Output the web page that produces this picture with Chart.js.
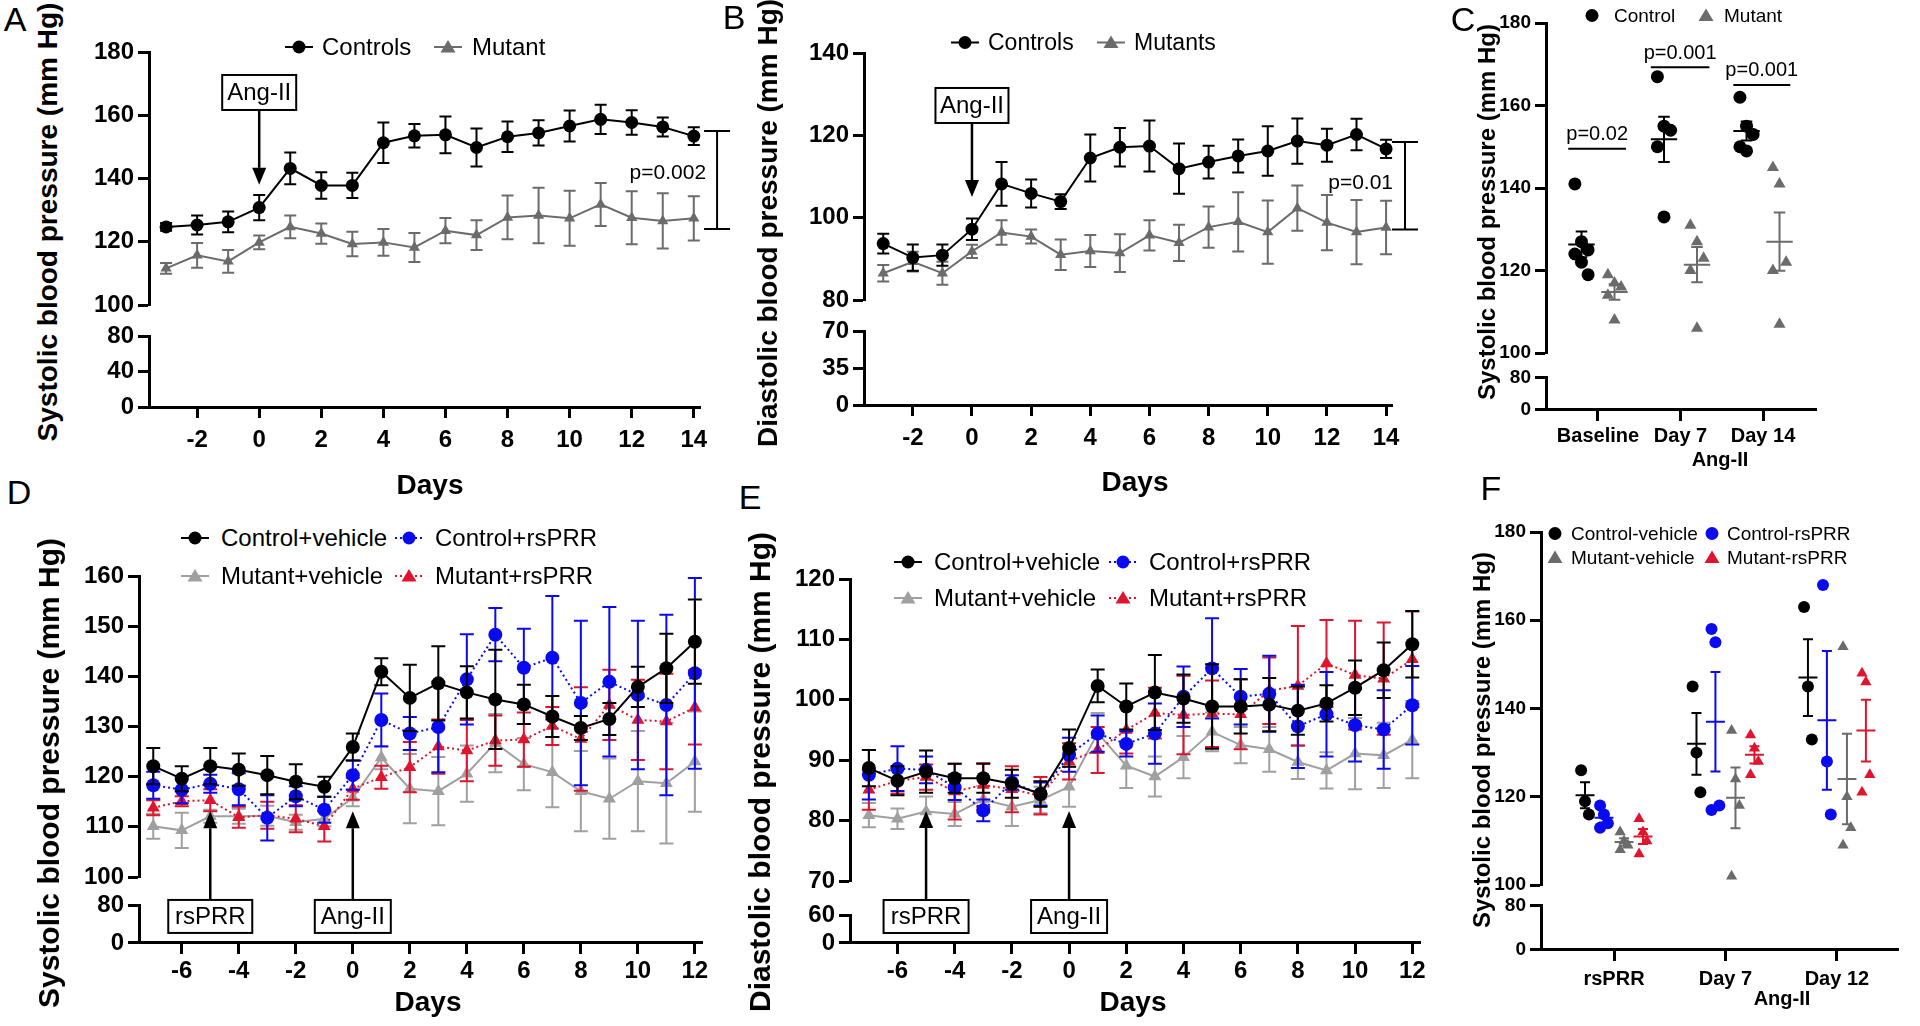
<!DOCTYPE html>
<html>
<head>
<meta charset="utf-8">
<script src="https://cdn.jsdelivr.net/npm/chart.js@4.4.1/dist/chart.umd.min.js"></script>
<style>
  body { margin: 0; width: 1920px; height: 1026px; overflow: hidden; position: relative; background: #fff;
         font-family: "Liberation Sans", Arial, sans-serif; color: #000; }
  canvas { position: absolute; }
  .txt { position: absolute; white-space: nowrap; line-height: 1; transform: translate(-50%, -50%); }
  .ytitle { position: absolute; white-space: nowrap; line-height: 1; font-weight: bold;
            transform: translate(-50%, -50%) rotate(-90deg); }
  .leg { position: absolute; display: flex; align-items: center; white-space: nowrap; line-height: 1;
         transform: translateY(-50%); }
</style>
</head>
<body>
<script>
// ---------------- data ----------------
const DAYS_AB = [-3, -2, -1, 0, 1, 2, 3, 4, 5, 6, 7, 8, 9, 10, 11, 12, 13, 14];
const DAYS_DE = [-7, -6, -5, -4, -3, -2, -1, 0, 1, 2, 3, 4, 5, 6, 7, 8, 9, 10, 11, 12];
const TICKS_AB = [-2, 0, 2, 4, 6, 8, 10, 12, 14];
const TICKS_DE = [-6, -4, -2, 0, 2, 4, 6, 8, 10, 12];

// A: systolic, controls vs mutant
const A_CTRL     = [124.7, 125.3, 126.3, 130.8, 143.2, 137.8, 137.8, 151.3, 153.5, 153.8, 149.8, 153.2, 154.4, 156.6, 158.7, 157.7, 156.3, 153.4];
const A_CTRL_ERR = [1.2, 3, 3.3, 4, 5, 4.2, 4, 6.4, 3.7, 5.8, 6, 4.8, 4, 4.9, 4.6, 3.9, 3, 2.8];
const A_MUT      = [111.6, 115.7, 113.8, 119.8, 124.7, 122.6, 119.3, 119.8, 118.2, 123.5, 122.1, 127.7, 128.3, 127.4, 131.8, 127.6, 126.6, 127.4];
const A_MUT_ERR  = [1.7, 3.9, 3.6, 2.2, 3.6, 3.2, 3.9, 4.2, 4.6, 4, 4.7, 6.9, 8.8, 8.7, 6.8, 8.4, 8.7, 7];
const A_Y_UP = [100, 120, 140, 160, 180];
const A_Y_LOW = [0, 40, 80];

// B: diastolic, controls vs mutants
const B_CTRL     = [93.7, 90.3, 90.9, 97.2, 108.2, 105.9, 103.9, 114.5, 117.1, 117.4, 111.9, 113.5, 115, 116.2, 118.6, 117.6, 120.2, 116.7];
const B_CTRL_ERR = [2.4, 3.2, 2.6, 2.6, 5.3, 3.4, 1.8, 5.7, 4.7, 6.2, 6.1, 4, 4, 6, 5.5, 4, 3.8, 2.2];
const B_MUT      = [86.5, 89.3, 86.5, 91.8, 96.4, 95.4, 91, 91.9, 91.4, 95.7, 93.9, 97.7, 99, 96.5, 102.3, 98.8, 96.5, 97.6];
const B_MUT_ERR  = [2, 2.4, 2.8, 1.6, 3, 1.7, 3.7, 3.9, 4.6, 3.7, 4.4, 5, 7.2, 7.7, 5.5, 6.7, 7.8, 6.5];
const B_Y_UP = [80, 100, 120, 140];
const B_Y_LOW = [0, 35, 70];

// C: individual animals
const C_GROUPS = ['Baseline', 'Day 7', 'Day 14'];
const C_CTRL = [[141, 127, 125, 124, 122, 119], [167, 155, 154, 150, 133], [162, 155, 153, 150, 149]];
const C_MUT  = [[119, 117, 116, 114, 108], [131, 127, 123, 120, 106], [145, 141, 122, 120, 107]];
const C_Y_UP = [100, 120, 140, 160, 180];
const C_Y_LOW = [0, 80];

// D: systolic, four groups
const D_CV     = [122.1, 119.6, 122.1, 121.4, 120.3, 119, 118, 125.9, 140.9, 135.7, 138.6, 136.8, 135.4, 134.4, 132, 129.7, 131.5, 137.9, 141.6, 146.9];
const D_CV_ERR = [3.6, 2.5, 3.6, 3.2, 3.8, 3.5, 2, 2.7, 2.7, 6.6, 7.4, 5.2, 9.9, 3.9, 4.1, 2.4, 3.2, 4, 6.9, 8.4];
const D_CR     = [118.3, 117.4, 118.6, 117.5, 111.8, 116.1, 113.4, 120.3, 131.3, 128.6, 129.9, 139.4, 148.3, 141.7, 143.7, 134.7, 138.9, 136.3, 134.3, 140.6];
const D_CR_ERR = [2.7, 2.7, 1.8, 3.2, 4.5, 2, 2.6, 2.9, 5.3, 3.3, 9, 9, 5.3, 7.8, 12.3, 16.4, 14.9, 14.8, 18, 19];
const D_MV     = [110.1, 109.3, 112.1, 112.1, 112.2, 110.9, 111.6, 115.8, 123.8, 117.6, 117.1, 120.6, 126.7, 122.5, 120.9, 117.1, 115.6, 119.1, 118.7, 123];
const D_MV_ERR = [2.5, 3.5, 1.3, 1.5, 2, 1.5, 1.5, 1.7, 2.3, 6.9, 6.8, 5.6, 5.8, 5.2, 7, 8, 8, 10, 12, 10];
const D_MR     = [113.8, 115.1, 115.3, 111.9, 112.3, 111.6, 110.1, 117.6, 119.9, 121.9, 126, 125.2, 127.2, 127.4, 130.1, 127.5, 134.3, 131.3, 131, 133.8];
const D_MR_ERR = [1.5, 1, 2.2, 2.1, 2.7, 2.7, 3, 2.2, 2.3, 5, 5.4, 6.1, 5, 5.4, 3.8, 10.3, 7, 8, 9.5, 7.4];
const D_Y_UP = [100, 110, 120, 130, 140, 150, 160];
const D_Y_LOW = [0, 80];

// E: diastolic, four groups
const E_CV     = [88.7, 86.6, 88.1, 87, 87, 86.1, 84.4, 92, 102.3, 98.9, 101.2, 100.2, 98.9, 98.9, 99.2, 98.2, 99.4, 102, 104.9, 109.2];
const E_CV_ERR = [3, 2.4, 3.5, 2.4, 2.4, 2.3, 2.1, 3.1, 2.7, 3.8, 6.2, 4, 7, 4.5, 4.4, 4, 3, 4.5, 4.6, 5.5];
const E_CR     = [87.6, 88.6, 88.4, 85.5, 81.7, 86.3, 84.4, 90.9, 94.4, 92.7, 94.4, 100.5, 105.2, 100.5, 101, 95.6, 97.6, 95.8, 95.1, 99.1];
const E_CR_ERR = [4.1, 3.7, 2.2, 2.1, 1.8, 1.2, 1.9, 2.8, 3, 2.1, 5, 5, 8.3, 4.6, 6.3, 6.9, 7, 6, 6.5, 6.5];
const E_MV     = [80.9, 80.3, 81.5, 81.1, 83.5, 82.3, 83.4, 85.6, 94.5, 89.1, 87.3, 90.5, 94.7, 92.5, 91.8, 89.7, 88.3, 91.1, 90.8, 93.4];
const E_MV_ERR = [2, 1.7, 2.5, 2, 2.2, 3.2, 2.2, 3.3, 3.3, 3.7, 3.3, 3.5, 3.2, 3, 3.7, 2.8, 3, 5.9, 5.4, 6.4];
const E_MR     = [85.1, 86.6, 87.2, 84.8, 85.9, 85.2, 84.1, 89.8, 91.7, 95, 97.8, 97.5, 97.7, 97.6, 101.5, 102.3, 106, 104.1, 103.5, 106.7];
const E_MR_ERR = [3.3, 2.1, 2.1, 4.6, 3.6, 3.8, 3.1, 3, 3.8, 3.9, 4.2, 6.5, 5.5, 5.8, 5.5, 9.9, 7.2, 9, 9.3, 7.9];
const E_Y_UP = [70, 80, 90, 100, 110, 120];
const E_Y_LOW = [0, 60];

// F: individual animals, four groups
const F_GROUPS = ['rsPRR', 'Day 7', 'Day 12'];
const F_CV = [[126, 119, 116], [145, 130, 121], [163, 145, 133]];
const F_CR = [[118, 116, 114, 113], [158, 155, 118, 117], [168, 128, 116]];
const F_MV = [[112, 110, 109, 108], [135, 124, 118, 102], [154, 120, 113, 109]];
const F_MR = [[115, 112, 110, 107], [134, 131, 128, 125], [148, 146, 125, 121]];
const F_Y_UP = [100, 120, 140, 160, 180];
const F_Y_LOW = [0, 80];

// ---------------- styles ----------------
const FONT = '"Liberation Sans", Arial, sans-serif';
const BLACK = '#000000', DGRAY = '#6b6b6b', LGRAY = '#a0a0a0', BLUE = '#0a0af0', RED = '#e0142d';
Chart.defaults.font.family = FONT;
Chart.defaults.color = '#000';

// ---------------- plugins ----------------
const errorBars = {
  id: 'errorBars',
  beforeDatasetDraw(chart, args) {
    const ds = chart.data.datasets[args.index];
    if (!ds.errors) return;
    const { ctx, scales: { y } } = chart;
    const cap = ds.capPx || 6;
    ctx.save();
    ctx.setLineDash([]);
    ctx.strokeStyle = ds.borderColor;
    ctx.lineWidth = 2;
    args.meta.data.forEach((pt, i) => {
      const v = ds.data[i].y, e = ds.errors[i];
      const t = y.getPixelForValue(v + e), b = y.getPixelForValue(v - e);
      ctx.beginPath();
      ctx.moveTo(pt.x, t); ctx.lineTo(pt.x, b);
      ctx.moveTo(pt.x - cap, t); ctx.lineTo(pt.x + cap, t);
      ctx.moveTo(pt.x - cap, b); ctx.lineTo(pt.x + cap, b);
      ctx.stroke();
    });
    ctx.restore();
  }
};

const meanSem = {
  id: 'meanSem',
  afterDatasetDraw(chart, args) {
    const ds = chart.data.datasets[args.index];
    if (!ds.stats) return;
    const { ctx, scales: { x, y } } = chart;
    ctx.save();
    ctx.setLineDash([]);
    ctx.strokeStyle = ds.borderColor;
    ctx.lineWidth = 2;
    ds.stats.forEach(s => {
      const m = y.getPixelForValue(s.mean);
      const t = y.getPixelForValue(s.mean + s.sem), b = y.getPixelForValue(s.mean - s.sem);
      const xc = x.getPixelForValue(s.x);
      const ml = x.getPixelForValue(s.x - ds.meanHalf), mr = x.getPixelForValue(s.x + ds.meanHalf);
      const cl = x.getPixelForValue(s.x - ds.capHalf), cr = x.getPixelForValue(s.x + ds.capHalf);
      ctx.beginPath();
      ctx.moveTo(ml, m); ctx.lineTo(mr, m);
      ctx.moveTo(xc, t); ctx.lineTo(xc, b);
      ctx.moveTo(cl, t); ctx.lineTo(cr, t);
      ctx.moveTo(cl, b); ctx.lineTo(cr, b);
      ctx.stroke();
    });
    ctx.restore();
  }
};

// boxes, arrows and p-value brackets, placed in data units
const notes = {
  id: 'notes',
  afterDraw(chart, args, opts) {
    const { ctx, scales: { x, y } } = chart;
    ctx.save();
    (opts.items || []).forEach(it => {
      ctx.setLineDash([]);
      ctx.strokeStyle = '#000';
      ctx.fillStyle = '#000';
      if (it.type === 'box') {
        const px = x.getPixelForValue(it.x), py = y.getPixelForValue(it.y);
        ctx.lineWidth = 2;
        ctx.strokeRect(px - it.w / 2, py - it.h / 2, it.w, it.h);
        ctx.font = '24px ' + FONT;
        ctx.textAlign = 'center';
        ctx.textBaseline = 'middle';
        ctx.fillText(it.text, px, py + 1);
      } else if (it.type === 'arrow') {
        const px = x.getPixelForValue(it.x);
        const y0 = y.getPixelForValue(it.from), y1 = y.getPixelForValue(it.to);
        const dir = Math.sign(y1 - y0), head = 17;
        ctx.lineWidth = 2.5;
        ctx.beginPath();
        ctx.moveTo(px, y0); ctx.lineTo(px, y1 - dir * head);
        ctx.stroke();
        ctx.beginPath();
        ctx.moveTo(px, y1);
        ctx.lineTo(px - 7, y1 - dir * head);
        ctx.lineTo(px + 7, y1 - dir * head);
        ctx.closePath();
        ctx.fill();
      } else if (it.type === 'bracket') {
        const px = x.getPixelForValue(it.x);
        const t = y.getPixelForValue(it.y2), b = y.getPixelForValue(it.y1);
        ctx.lineWidth = 2;
        ctx.beginPath();
        ctx.moveTo(px, t); ctx.lineTo(px, b);
        ctx.moveTo(px - it.cap, t); ctx.lineTo(px + it.cap, t);
        ctx.moveTo(px - it.cap, b); ctx.lineTo(px + it.cap, b);
        ctx.stroke();
        ctx.font = '21px ' + FONT;
        ctx.textAlign = 'right';
        ctx.textBaseline = 'middle';
        ctx.fillText(it.text, px - it.gap, y.getPixelForValue(it.textY));
      } else if (it.type === 'sig') {
        const py = y.getPixelForValue(it.y);
        const x1 = x.getPixelForValue(it.x1), x2 = x.getPixelForValue(it.x2);
        ctx.lineWidth = 2;
        ctx.beginPath();
        ctx.moveTo(x1, py); ctx.lineTo(x2, py);
        ctx.stroke();
        ctx.font = '20px ' + FONT;
        ctx.textAlign = 'center';
        ctx.textBaseline = 'bottom';
        ctx.fillText(it.text, (x1 + x2) / 2, py - 4);
      }
    });
    ctx.restore();
  }
};

// ---------------- datasets ----------------
function lineSet(days, vals, errs, color, shape, dotted, radius, capPx) {
  return {
    data: days.map((d, i) => ({ x: d, y: vals[i] })),
    errors: errs, capPx,
    borderColor: color, backgroundColor: color,
    borderWidth: 2, borderDash: dotted ? [2, 3] : [],
    pointStyle: shape, pointRadius: radius, pointBorderWidth: 0,
    pointBackgroundColor: color, pointBorderColor: color,
    tension: 0, fill: false, clip: false
  };
}

function dotSet(groups, color, shape, offset, spread, radius, meanHalf, capHalf) {
  const pts = [], stats = [];
  groups.forEach((vals, g) => {
    const cx = g + 1 + offset;
    vals.forEach((v, j) => pts.push({ x: cx + ((j % 3) - 1) * spread, y: v }));
    const mean = vals.reduce((a, b) => a + b, 0) / vals.length;
    const sd = Math.sqrt(vals.reduce((a, b) => a + (b - mean) ** 2, 0) / (vals.length - 1));
    stats.push({ x: cx, mean, sem: sd / Math.sqrt(vals.length) });
  });
  return {
    data: pts, stats, meanHalf, capHalf,
    showLine: false, borderColor: color, backgroundColor: color,
    pointStyle: shape, pointRadius: radius, pointBorderWidth: 0,
    pointBackgroundColor: color, clip: false
  };
}

// ---------------- layout helpers ----------------
const ML = 80, MR = 70, MT = 22, XB = 64;

function mkCanvas(left, top, w, h) {
  const c = document.createElement('canvas');
  c.width = w; c.height = h;
  Object.assign(c.style, { left: left + 'px', top: top + 'px', width: w + 'px', height: h + 'px' });
  document.body.appendChild(c);
  return c;
}

function axisOpts(size, pad, list) {
  return {
    grid: { display: true, drawOnChartArea: false, drawTicks: true, tickLength: 11, tickWidth: 3, tickColor: '#000' },
    border: { display: true, color: '#000', width: 3 },
    ticks: { color: '#000', font: { size, weight: 'bold' }, padding: pad, autoSkip: false, maxRotation: 0 },
    afterBuildTicks: s => { s.ticks = list.map(v => ({ value: v })); }
  };
}

// one panel = upper chart with the data + lower chart carrying the x axis
function panel(p) {
  const left = p.axisX - ML;
  const w = p.plotRight - p.axisX + ML + MR;
  const upTop = p.upper[0] - MT;
  const upBottom = p.upCanvasBottom || (p.lower[0] - 4);
  const base = { responsive: false, animation: false, events: [] };
  const hide = { legend: { display: false }, tooltip: { enabled: false } };

  const xAxis = axisOpts(p.xFont, p.xPad, p.xTicks);
  if (p.xLabels) xAxis.ticks.callback = v => p.xLabels[v - 1];

  // lower segment with x axis
  new Chart(mkCanvas(left, p.lower[0] - 15, w, 15 + (p.lower[1] - p.lower[0]) + XB), {
    type: 'line',
    data: { datasets: [] },
    options: Object.assign({}, base, {
      plugins: hide,
      layout: { padding: { top: 15, bottom: 0, left: 0, right: MR } },
      scales: {
        x: Object.assign(xAxis, {
          type: 'linear', position: 'bottom', min: p.xMin, max: p.xMax,
          afterFit: s => { s.height = XB; }
        }),
        y: Object.assign(axisOpts(p.yFont, 4, p.yLow), {
          type: 'linear', min: p.yLow[0], max: p.yLow[p.yLow.length - 1],
          afterFit: s => { s.width = ML; }
        })
      }
    })
  });

  // upper segment with the data
  new Chart(mkCanvas(left, upTop, w, upBottom - upTop), {
    type: 'line',
    data: { datasets: p.datasets },
    options: Object.assign({}, base, {
      layout: { padding: { top: MT, bottom: upBottom - p.upper[1], left: 0, right: MR } },
      plugins: Object.assign({ notes: { items: p.notes || [] } }, hide),
      scales: {
        x: { type: 'linear', display: false, min: p.xMin, max: p.xMax },
        y: Object.assign(axisOpts(p.yFont, 4, p.yUp), {
          type: 'linear', min: p.yUp[0], max: p.yUp[p.yUp.length - 1],
          afterFit: s => { s.width = ML; }
        })
      }
    }),
    plugins: [errorBars, meanSem, notes]
  });
}

function text(str, x, y, size, weight) {
  const d = document.createElement('div');
  d.className = 'txt';
  d.textContent = str;
  Object.assign(d.style, { left: x + 'px', top: y + 'px', fontSize: size + 'px', fontWeight: weight || 'normal' });
  document.body.appendChild(d);
}

function yTitle(str, x, y, size) {
  const d = document.createElement('div');
  d.className = 'ytitle';
  d.textContent = str;
  Object.assign(d.style, { left: x + 'px', top: y + 'px', fontSize: size + 'px' });
  document.body.appendChild(d);
}

function symbol(shape, color, line, w) {
  const h = 18, cy = 9, cx = w / 2;
  let s = `<svg width="${w}" height="${h}" style="display:block">`;
  if (line) s += `<line x1="0" y1="${cy}" x2="${w}" y2="${cy}" stroke="${color}" stroke-width="2"${line === 'dot' ? ' stroke-dasharray="2,3"' : ''}/>`;
  if (shape === 'circle') s += `<circle cx="${cx}" cy="${cy}" r="6.5" fill="${color}"/>`;
  else s += `<polygon points="${cx},${cy - 7} ${cx + 7.5},${cy + 5.5} ${cx - 7.5},${cy + 5.5}" fill="${color}"/>`;
  return s + '</svg>';
}

function legendItem(x, y, shape, color, line, label, size, symW, gap) {
  const d = document.createElement('div');
  d.className = 'leg';
  d.innerHTML = symbol(shape, color, line, symW) + `<span style="margin-left:${gap}px;font-size:${size}px">${label}</span>`;
  Object.assign(d.style, { left: x + 'px', top: y + 'px' });
  document.body.appendChild(d);
}

// ---------------- panel A ----------------
panel({
  axisX: 149, plotRight: 700, upper: [52, 305], lower: [333, 407],
  xMin: -3.55, xMax: 14.2, xTicks: TICKS_AB, xFont: 24, xPad: 8, yFont: 24,
  yUp: A_Y_UP, yLow: A_Y_LOW,
  datasets: [
    lineSet(DAYS_AB, A_CTRL, A_CTRL_ERR, BLACK, 'circle', false, 6.5, 6),
    lineSet(DAYS_AB, A_MUT, A_MUT_ERR, DGRAY, 'triangle', false, 6.5, 6)
  ],
  notes: [
    { type: 'box', x: 0, y: 167.2, w: 74, h: 35, text: 'Ang-II' },
    { type: 'arrow', x: 0, from: 161.6, to: 138 },
    { type: 'bracket', x: 14.75, y1: 124, y2: 155, cap: 13, gap: 11, text: 'p=0.002', textY: 141.7 }
  ]
});

// ---------------- panel B ----------------
panel({
  axisX: 864, plotRight: 1392, upper: [53, 300], lower: [328, 405],
  xMin: -3.65, xMax: 14.2, xTicks: TICKS_AB, xFont: 24, xPad: 8, yFont: 24,
  yUp: B_Y_UP, yLow: B_Y_LOW,
  datasets: [
    lineSet(DAYS_AB, B_CTRL, B_CTRL_ERR, BLACK, 'circle', false, 6.5, 6),
    lineSet(DAYS_AB, B_MUT, B_MUT_ERR, DGRAY, 'triangle', false, 6.5, 6)
  ],
  notes: [
    { type: 'box', x: 0, y: 127.25, w: 73, h: 35, text: 'Ang-II' },
    { type: 'arrow', x: 0, from: 123, to: 105 },
    { type: 'bracket', x: 14.64, y1: 97.1, y2: 118.4, cap: 13, gap: 12, text: 'p=0.01', textY: 108.4 }
  ]
});

// ---------------- panel C ----------------
panel({
  axisX: 1546, plotRight: 1816, upper: [23, 353], lower: [377, 410],
  xMin: 0.37, xMax: 3.642, xTicks: [1, 2, 3], xLabels: C_GROUPS, xFont: 20, xPad: 3, yFont: 19,
  yUp: C_Y_UP, yLow: C_Y_LOW,
  datasets: [
    dotSet(C_CTRL, BLACK, 'circle', -0.2, 0.08, 6.5, 0.16, 0.07),
    dotSet(C_MUT, DGRAY, 'triangle', 0.2, 0.08, 7, 0.16, 0.07)
  ],
  notes: [
    { type: 'sig', x1: 0.64, x2: 1.34, y: 149.5, text: 'p=0.02' },
    { type: 'sig', x1: 1.64, x2: 2.35, y: 169.3, text: 'p=0.001' },
    { type: 'sig', x1: 2.64, x2: 3.33, y: 165, text: 'p=0.001' }
  ]
});

// ---------------- panel D ----------------
panel({
  axisX: 139, plotRight: 702, upper: [575.5, 877], lower: [902, 943], upCanvasBottom: 948,
  xMin: -7.5, xMax: 12.25, xTicks: TICKS_DE, xFont: 24, xPad: 3, yFont: 24,
  yUp: D_Y_UP, yLow: D_Y_LOW,
  datasets: [
    lineSet(DAYS_DE, D_CV, D_CV_ERR, BLACK, 'circle', false, 7, 7),
    lineSet(DAYS_DE, D_CR, D_CR_ERR, BLUE, 'circle', true, 7, 7),
    lineSet(DAYS_DE, D_MR, D_MR_ERR, RED, 'triangle', true, 7.5, 7),
    lineSet(DAYS_DE, D_MV, D_MV_ERR, LGRAY, 'triangle', false, 7.5, 7)
  ],
  notes: [
    { type: 'box', x: -5, y: 92.14, w: 84, h: 33, text: 'rsPRR' },
    { type: 'arrow', x: -5, from: 95.6, to: 113.1 },
    { type: 'box', x: 0, y: 92.14, w: 76, h: 33, text: 'Ang-II' },
    { type: 'arrow', x: 0, from: 95.6, to: 113.1 }
  ]
});

// ---------------- panel E ----------------
panel({
  axisX: 850, plotRight: 1420, upper: [579, 881], lower: [912, 943], upCanvasBottom: 948,
  xMin: -7.66, xMax: 12.27, xTicks: TICKS_DE, xFont: 24, xPad: 3, yFont: 24,
  yUp: E_Y_UP, yLow: E_Y_LOW,
  datasets: [
    lineSet(DAYS_DE, E_CV, E_CV_ERR, BLACK, 'circle', false, 7, 7),
    lineSet(DAYS_DE, E_CR, E_CR_ERR, BLUE, 'circle', true, 7, 7),
    lineSet(DAYS_DE, E_MR, E_MR_ERR, RED, 'triangle', true, 7.5, 7),
    lineSet(DAYS_DE, E_MV, E_MV_ERR, LGRAY, 'triangle', false, 7.5, 7)
  ],
  notes: [
    { type: 'box', x: -5, y: 64.12, w: 85, h: 33, text: 'rsPRR' },
    { type: 'arrow', x: -5, from: 67.0, to: 81.6 },
    { type: 'box', x: 0, y: 64.12, w: 76, h: 33, text: 'Ang-II' },
    { type: 'arrow', x: 0, from: 67.0, to: 81.6 }
  ]
});

// ---------------- panel F ----------------
panel({
  axisX: 1541, plotRight: 1898, upper: [532, 885], lower: [905, 950],
  xMin: 0.345, xMax: 3.548, xTicks: [1, 2, 3], xLabels: F_GROUPS, xFont: 20, xPad: 6, yFont: 19,
  yUp: F_Y_UP, yLow: F_Y_LOW,
  datasets: [
    dotSet(F_CV, BLACK, 'circle', -0.26, 0.035, 6, 0.085, 0.045),
    dotSet(F_CR, BLUE, 'circle', -0.09, 0.035, 6, 0.085, 0.045),
    dotSet(F_MV, DGRAY, 'triangle', 0.09, 0.035, 6.5, 0.085, 0.045),
    dotSet(F_MR, RED, 'triangle', 0.26, 0.035, 6.5, 0.085, 0.045)
  ]
});

// ---------------- text ----------------
text('A', 15, 19, 34); text('B', 734, 17, 34); text('C', 1463, 19, 34);
text('D', 19, 492, 34); text('E', 750, 497, 34); text('F', 1491, 488, 34);

yTitle('Systolic blood pressure (mm Hg)', 48, 222, 28);
yTitle('Diastolic blood pressure (mm Hg)', 768, 223, 28);
yTitle('Systolic blood pressure (mm Hg)', 1487, 212, 24);
yTitle('Systolic blood pressure (mm Hg)', 49, 773, 30);
yTitle('Diastolic blood pressure (mm Hg)', 760, 772, 30);
yTitle('Systolic blood pressure (mm Hg)', 1482, 740, 24);

text('Days', 430, 485, 28, 'bold');
text('Days', 1135, 482, 28, 'bold');
text('Days', 428, 1002, 28, 'bold');
text('Days', 1133, 1002, 28, 'bold');
text('Ang-II', 1720, 459, 20, 'bold');
text('Ang-II', 1782, 998, 20, 'bold');

// ---------------- legends ----------------
legendItem(285, 47, 'circle', BLACK, 'solid', 'Controls', 24, 28, 9);
legendItem(434, 47, 'triangle', DGRAY, 'solid', 'Mutant', 24, 28, 10);
legendItem(951, 42, 'circle', BLACK, 'solid', 'Controls', 23, 28, 9);
legendItem(1097, 42, 'triangle', DGRAY, 'solid', 'Mutants', 23, 28, 9);

legendItem(1584, 15, 'circle', BLACK, null, 'Control', 19, 16, 14);
legendItem(1698, 15, 'triangle', DGRAY, null, 'Mutant', 19, 16, 10);

legendItem(181, 538, 'circle', BLACK, 'solid', 'Control+vehicle', 24, 28, 12);
legendItem(395, 538, 'circle', BLUE, 'dot', 'Control+rsPRR', 24, 28, 12);
legendItem(181, 576, 'triangle', LGRAY, 'solid', 'Mutant+vehicle', 24, 28, 12);
legendItem(395, 576, 'triangle', RED, 'dot', 'Mutant+rsPRR', 24, 28, 12);

legendItem(894, 562, 'circle', BLACK, 'solid', 'Control+vehicle', 24, 28, 12);
legendItem(1109, 562, 'circle', BLUE, 'dot', 'Control+rsPRR', 24, 28, 12);
legendItem(894, 598, 'triangle', LGRAY, 'solid', 'Mutant+vehicle', 24, 28, 12);
legendItem(1109, 598, 'triangle', RED, 'dot', 'Mutant+rsPRR', 24, 28, 12);

legendItem(1547, 533, 'circle', BLACK, null, 'Control-vehicle', 19, 16, 8);
legendItem(1704, 533, 'circle', BLUE, null, 'Control-rsPRR', 19, 16, 7);
legendItem(1547, 557, 'triangle', DGRAY, null, 'Mutant-vehicle', 19, 16, 8);
legendItem(1704, 557, 'triangle', RED, null, 'Mutant-rsPRR', 19, 16, 7);
</script>
</body>
</html>
